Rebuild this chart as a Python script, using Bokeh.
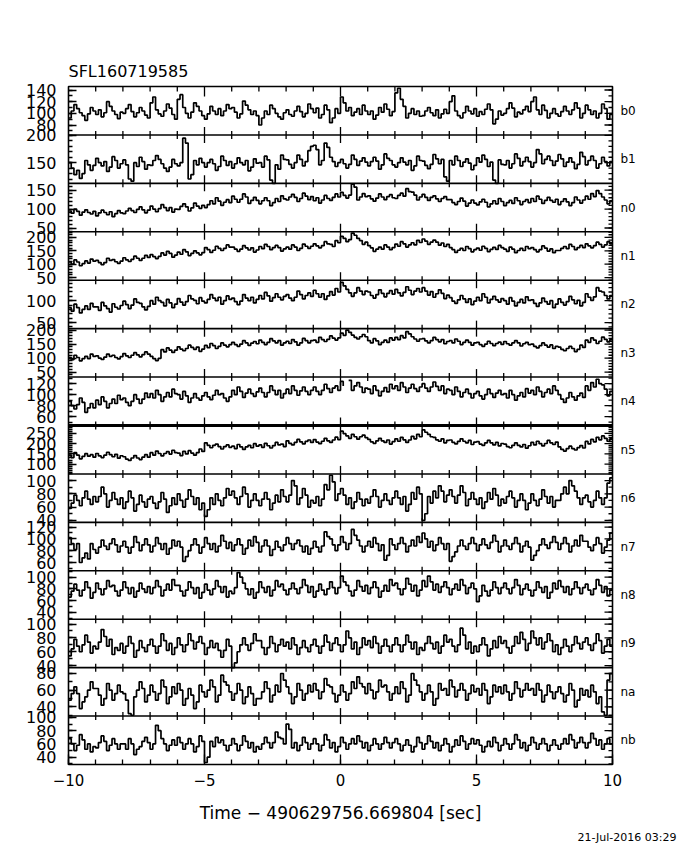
import math
import numpy as np
from bokeh.plotting import figure
from bokeh.models import (LinearAxis, FixedTicker, Range1d, Span, Title,
                          ColumnDataSource, LinearInterpolator)
from bokeh.transform import transform
from bokeh.embed import file_html
from bokeh.resources import INLINE

TITLE = "SFL160719585"
X_LABEL = "Time \u2212 490629756.669804 [sec]"
DATE = "21-Jul-2016 03:29"

# time bins (0.1 s) from -10 to 10 s
T_START, T_END, N_BINS = -10.0, 10.0, 200
X_TICKS = [-10, -5, 0, 5, 10]
X_TICK_LABELS = ["\u221210", "\u22125", "0", "5", "10"]

PANEL_NAMES = ["b0", "b1", "n0", "n1", "n2", "n3", "n4", "n5",
               "n6", "n7", "n8", "n9", "na", "nb"]
PANEL_LO = [63, 112, 40, 40, 36, 32, 44, 52, 37, 46, 28, 37, 29, 29]
PANEL_HI = [146, 201, 168, 221, 147, 205, 132, 289, 110, 128, 111, 107, 87, 102]
PANEL_TICKS = [[80, 100, 120, 140], [150, 200], [50, 100, 150], [50, 100, 150, 200],
               [50, 100], [50, 100, 150, 200], [60, 80, 100, 120], [100, 150, 200, 250],
               [40, 60, 80, 100], [60, 80, 100, 120], [40, 60, 80, 100],
               [40, 60, 80, 100], [40, 60, 80], [40, 60, 80, 100]]

b0 = [92, 104, 115, 108, 101, 96, 88, 99, 110, 104,
      98, 106, 94, 101, 120, 112, 104, 98, 91, 102,
      100, 108, 115, 103, 94, 101, 110, 104, 97, 92,
      118, 128, 106, 99, 95, 104, 116, 109, 98, 90,
      124, 132, 110, 100, 92, 102, 118, 112, 104, 96,
      90, 99, 112, 104, 98, 108, 96, 104, 115, 108,
      110, 102, 92, 99, 121, 114, 106, 98, 104, 96,
      80, 92, 104, 98, 114, 108, 100, 94, 90, 101,
      106, 98, 95, 104, 112, 103, 94, 100, 116, 108,
      101, 109, 92, 98, 114, 106, 84, 92, 108, 100,
      128, 118, 104, 110, 96, 102, 108, 98, 114, 104,
      98, 104, 90, 97, 110, 102, 116, 107, 96, 103,
      135, 143, 124, 112, 92, 100, 108, 98, 104, 95,
      96, 104, 110, 101, 96, 106, 92, 99, 107, 100,
      120, 130, 104, 96, 92, 101, 112, 104, 99, 108,
      95, 103, 98, 107, 116, 106, 82, 90, 104, 97,
      100, 108, 118, 109, 94, 102, 99, 106, 112, 103,
      120, 128, 106, 98, 114, 105, 92, 100, 108, 99,
      95, 103, 112, 104, 98, 106, 118, 109, 92, 100,
      114, 106, 98, 104, 92, 100, 116, 108, 90, 98]
b1 = [150, 140, 128, 136, 121, 130, 154, 146, 136, 145,
      158, 150, 144, 152, 134, 142, 161, 154, 140, 148,
      155, 146, 120, 116, 150, 143, 160, 152, 138, 146,
      145, 154, 163, 156, 148, 140, 134, 142, 156, 148,
      144, 150, 195, 186, 120, 128, 154, 146, 158, 150,
      142, 150, 156, 148, 136, 143, 162, 154, 145, 152,
      140, 148, 159, 150, 146, 154, 135, 142, 157, 149,
      150, 142, 162, 155, 118, 112, 146, 138, 164, 156,
      155, 147, 140, 150, 164, 156, 144, 152, 172, 180,
      182, 174, 146, 154, 186, 178, 160, 152, 143, 150,
      156, 148, 140, 147, 164, 156, 145, 153, 159, 151,
      144, 152, 160, 153, 138, 146, 166, 158, 154, 146,
      142, 150, 159, 151, 146, 154, 136, 144, 162, 154,
      153, 145, 139, 147, 165, 157, 148, 156, 124, 116,
      154, 146, 162, 154, 143, 151, 157, 149, 137, 145,
      159, 151, 164, 156, 143, 151, 118, 112, 155, 147,
      146, 154, 140, 148, 166, 158, 144, 152, 160, 152,
      142, 150, 174, 166, 148, 156, 162, 154, 145, 153,
      165, 157, 143, 151, 159, 151, 139, 147, 169, 161,
      146, 154, 162, 154, 140, 148, 160, 152, 144, 152]
n0 = [95, 89, 100, 94, 84, 92, 98, 91, 87, 94,
      82, 90, 97, 91, 85, 93, 80, 88, 96, 90,
      88, 95, 102, 96, 91, 99, 106, 98, 90, 97,
      108, 100, 93, 101, 112, 104, 96, 104, 92, 100,
      99, 107, 114, 106, 95, 103, 116, 108, 102, 110,
      104, 112, 122, 114, 130, 121, 110, 118, 125, 117,
      134, 126, 118, 126, 140, 132, 115, 123, 131, 123,
      114, 122, 130, 122, 109, 117, 128, 120, 135, 127,
      124, 132, 139, 131, 120, 128, 142, 134, 125, 133,
      122, 130, 116, 124, 136, 128, 123, 131, 140, 132,
      144, 136, 129, 137, 166, 158, 124, 132, 141, 133,
      135, 127, 121, 129, 140, 132, 125, 133, 138, 130,
      128, 136, 142, 134, 154, 146, 145, 137, 124, 132,
      139, 131, 123, 131, 135, 127, 120, 128, 133, 125,
      125, 117, 112, 120, 129, 121, 108, 116, 124, 116,
      111, 119, 126, 118, 106, 114, 122, 114, 128, 120,
      109, 117, 123, 115, 130, 122, 112, 120, 125, 117,
      128, 120, 134, 126, 115, 123, 131, 123, 118, 126,
      112, 120, 127, 119, 109, 117, 132, 124, 116, 124,
      134, 126, 141, 133, 149, 141, 132, 124, 114, 122]
n1 = [108, 100, 116, 108, 94, 102, 112, 104, 119, 111,
      114, 106, 98, 106, 122, 114, 117, 109, 103, 111,
      124, 116, 110, 118, 130, 122, 114, 122, 133, 125,
      136, 128, 121, 129, 142, 134, 148, 140, 126, 134,
      145, 137, 154, 146, 132, 140, 150, 142, 135, 143,
      162, 154, 144, 152, 167, 159, 151, 159, 172, 164,
      164, 156, 148, 156, 169, 161, 153, 161, 145, 153,
      166, 158, 174, 166, 154, 162, 170, 162, 149, 157,
      164, 156, 172, 164, 151, 159, 175, 167, 159, 167,
      176, 168, 161, 169, 184, 176, 174, 166, 188, 180,
      204, 196, 184, 192, 216, 208, 196, 188, 174, 182,
      169, 161, 148, 156, 164, 156, 172, 164, 154, 162,
      175, 167, 184, 176, 164, 172, 180, 172, 189, 181,
      194, 186, 174, 182, 190, 182, 171, 179, 166, 174,
      162, 154, 144, 152, 159, 151, 166, 158, 146, 154,
      160, 152, 167, 159, 147, 155, 163, 155, 170, 162,
      156, 148, 164, 156, 143, 151, 159, 151, 166, 158,
      162, 154, 146, 154, 168, 160, 149, 157, 143, 151,
      151, 159, 166, 158, 174, 166, 154, 162, 170, 162,
      176, 168, 161, 169, 182, 174, 164, 172, 184, 176]
n2 = [84, 76, 92, 84, 72, 80, 88, 80, 94, 86,
      86, 78, 96, 88, 82, 74, 93, 85, 81, 89,
      99, 91, 82, 90, 104, 96, 94, 86, 79, 87,
      100, 92, 108, 100, 96, 88, 103, 95, 84, 92,
      105, 97, 90, 98, 112, 104, 101, 93, 107, 99,
      95, 103, 114, 106, 100, 108, 92, 100, 111, 103,
      106, 98, 91, 99, 114, 106, 100, 108, 95, 103,
      112, 104, 119, 111, 99, 107, 116, 108, 102, 110,
      114, 106, 100, 108, 122, 114, 104, 112, 118, 110,
      124, 116, 108, 116, 103, 111, 121, 113, 128, 120,
      142, 134, 126, 118, 110, 118, 130, 122, 114, 122,
      120, 112, 106, 114, 125, 117, 109, 117, 123, 115,
      126, 118, 111, 119, 132, 124, 114, 122, 128, 120,
      130, 122, 113, 121, 108, 116, 125, 117, 105, 113,
      107, 99, 94, 102, 112, 104, 96, 104, 91, 99,
      108, 100, 116, 108, 95, 103, 110, 102, 97, 105,
      100, 92, 107, 99, 88, 96, 103, 95, 109, 101,
      102, 94, 87, 95, 106, 98, 92, 100, 84, 92,
      104, 96, 90, 98, 110, 102, 93, 101, 88, 96,
      116, 108, 101, 109, 130, 122, 120, 112, 104, 112]
n3 = [102, 94, 110, 102, 90, 98, 106, 98, 114, 106,
      108, 100, 95, 103, 114, 106, 110, 102, 97, 105,
      116, 108, 102, 110, 119, 111, 104, 112, 122, 114,
      106, 98, 91, 99, 130, 122, 136, 128, 120, 128,
      140, 132, 126, 134, 146, 138, 131, 139, 124, 132,
      145, 137, 152, 144, 134, 142, 154, 146, 140, 148,
      156, 148, 142, 150, 162, 154, 145, 153, 159, 151,
      164, 156, 148, 156, 169, 161, 154, 162, 146, 154,
      160, 152, 166, 158, 146, 154, 170, 162, 154, 162,
      164, 156, 174, 166, 159, 167, 179, 171, 164, 172,
      189, 181, 200, 192, 182, 174, 168, 176, 184, 176,
      162, 154, 169, 161, 148, 156, 164, 156, 172, 164,
      174, 166, 180, 172, 194, 186, 176, 168, 160, 168,
      169, 161, 154, 162, 174, 166, 158, 166, 151, 159,
      162, 154, 168, 160, 148, 156, 164, 156, 146, 154,
      156, 148, 142, 150, 160, 152, 144, 152, 157, 149,
      159, 151, 146, 154, 162, 154, 143, 151, 156, 148,
      150, 142, 136, 144, 154, 146, 139, 147, 134, 142,
      139, 131, 126, 134, 142, 134, 123, 131, 146, 138,
      164, 156, 172, 164, 152, 160, 175, 167, 158, 166]
n4 = [88, 80, 74, 82, 94, 86, 68, 76, 84, 76,
      90, 82, 96, 88, 76, 84, 92, 84, 99, 91,
      94, 86, 80, 88, 100, 92, 84, 92, 103, 95,
      102, 94, 108, 100, 88, 96, 104, 96, 110, 102,
      100, 92, 106, 98, 86, 94, 102, 94, 90, 98,
      104, 96, 91, 99, 108, 100, 102, 94, 88, 96,
      108, 100, 114, 106, 95, 103, 110, 102, 97, 105,
      112, 104, 96, 104, 116, 108, 100, 108, 94, 102,
      110, 102, 116, 108, 99, 107, 114, 106, 100, 108,
      114, 106, 100, 108, 119, 111, 104, 112, 116, 108,
      124, 116, 134, 126, 108, 116, 122, 114, 104, 112,
      110, 102, 116, 108, 98, 106, 113, 105, 119, 111,
      116, 108, 122, 114, 104, 112, 119, 111, 106, 114,
      120, 112, 106, 114, 123, 115, 108, 116, 102, 110,
      108, 100, 114, 106, 96, 104, 110, 102, 94, 102,
      106, 98, 92, 100, 110, 102, 95, 103, 108, 100,
      102, 94, 108, 100, 90, 98, 104, 96, 111, 103,
      108, 100, 114, 106, 96, 104, 110, 102, 116, 108,
      100, 92, 86, 94, 104, 96, 90, 98, 103, 95,
      116, 108, 122, 114, 128, 120, 118, 110, 98, 106]
n5 = [144, 132, 156, 144, 126, 138, 151, 139, 146, 134,
      152, 140, 132, 144, 158, 146, 136, 148, 129, 141,
      136, 124, 118, 130, 142, 130, 122, 134, 146, 134,
      156, 144, 164, 152, 140, 152, 161, 149, 168, 156,
      154, 142, 162, 150, 166, 154, 144, 156, 174, 162,
      204, 192, 180, 192, 198, 186, 174, 186, 194, 182,
      188, 176, 196, 184, 172, 184, 192, 180, 200, 188,
      194, 182, 202, 190, 179, 191, 206, 194, 198, 186,
      214, 202, 194, 206, 221, 209, 199, 211, 218, 206,
      220, 208, 200, 212, 226, 214, 206, 218, 232, 220,
      261, 249, 238, 226, 246, 234, 222, 234, 242, 230,
      221, 209, 202, 214, 226, 214, 206, 218, 198, 210,
      224, 212, 231, 219, 206, 218, 236, 224, 246, 234,
      268, 256, 246, 234, 231, 219, 212, 224, 204, 216,
      218, 206, 199, 211, 224, 212, 204, 216, 196, 208,
      210, 198, 192, 204, 216, 204, 194, 206, 189, 201,
      198, 186, 180, 192, 204, 192, 184, 196, 178, 190,
      206, 194, 212, 200, 189, 201, 216, 204, 196, 208,
      184, 172, 164, 176, 188, 176, 169, 181, 191, 179,
      211, 199, 221, 209, 231, 219, 238, 226, 212, 224]
n6 = [58, 66, 78, 70, 62, 74, 84, 72, 64, 76,
      68, 76, 90, 80, 60, 70, 82, 72, 64, 74,
      58, 68, 84, 74, 54, 64, 78, 68, 60, 72,
      76, 66, 58, 68, 82, 72, 52, 62, 74, 64,
      80, 70, 60, 72, 86, 76, 64, 74, 56, 66,
      46, 56, 74, 64, 80, 70, 62, 74, 88, 78,
      84, 74, 64, 76, 90, 80, 60, 70, 80, 70,
      62, 72, 82, 72, 56, 66, 78, 68, 86, 76,
      68, 78, 100, 92, 64, 74, 88, 78, 60, 70,
      66, 76, 62, 72, 94, 86, 108, 98, 70, 80,
      88, 78, 64, 74, 58, 68, 82, 72, 62, 72,
      66, 76, 86, 76, 60, 70, 80, 70, 64, 74,
      84, 74, 64, 76, 54, 64, 82, 72, 90, 80,
      40, 50, 76, 66, 84, 74, 92, 84, 68, 78,
      86, 76, 66, 78, 92, 82, 62, 72, 82, 72,
      64, 74, 58, 68, 82, 72, 88, 78, 62, 72,
      66, 76, 84, 74, 60, 70, 80, 70, 56, 66,
      80, 70, 62, 72, 86, 76, 66, 76, 60, 70,
      70, 80, 90, 80, 100, 92, 84, 74, 64, 74,
      78, 68, 60, 70, 84, 74, 64, 74, 96, 104]
n7 = [102, 92, 82, 92, 60, 68, 76, 66, 92, 82,
      76, 86, 98, 88, 82, 92, 100, 90, 78, 88,
      96, 86, 76, 86, 104, 94, 80, 90, 100, 90,
      78, 88, 102, 92, 82, 92, 74, 84, 98, 88,
      96, 86, 62, 70, 80, 90, 100, 90, 76, 86,
      102, 92, 82, 92, 78, 88, 106, 96, 84, 94,
      80, 90, 100, 90, 74, 84, 98, 88, 104, 94,
      78, 88, 98, 88, 72, 82, 96, 86, 80, 90,
      102, 92, 82, 92, 98, 88, 78, 88, 74, 84,
      96, 86, 78, 88, 112, 104, 100, 90, 80, 90,
      104, 94, 82, 92, 116, 106, 98, 88, 78, 88,
      96, 86, 102, 92, 80, 90, 64, 72, 100, 90,
      82, 92, 102, 92, 78, 88, 98, 88, 104, 94,
      110, 100, 86, 96, 80, 90, 102, 92, 82, 92,
      62, 70, 78, 88, 98, 88, 82, 92, 102, 92,
      80, 90, 100, 90, 84, 94, 106, 96, 78, 88,
      98, 88, 82, 92, 102, 92, 78, 88, 96, 86,
      64, 72, 80, 90, 100, 90, 84, 94, 104, 94,
      82, 92, 102, 92, 78, 88, 98, 88, 106, 96,
      96, 86, 80, 90, 102, 92, 76, 86, 98, 110]
n8 = [66, 76, 88, 78, 68, 78, 92, 82, 64, 74,
      90, 80, 70, 80, 94, 84, 86, 76, 68, 78,
      92, 82, 72, 82, 66, 76, 90, 80, 74, 84,
      72, 82, 94, 84, 68, 78, 88, 78, 96, 86,
      86, 76, 68, 78, 92, 82, 72, 82, 64, 74,
      88, 78, 70, 80, 94, 84, 74, 84, 66, 76,
      72, 82, 108, 100, 90, 80, 70, 80, 64, 74,
      92, 82, 74, 84, 68, 78, 94, 84, 88, 78,
      70, 80, 90, 80, 72, 82, 96, 86, 74, 84,
      66, 76, 88, 78, 70, 80, 92, 82, 72, 82,
      102, 92, 86, 76, 68, 78, 94, 84, 76, 86,
      72, 82, 92, 82, 66, 76, 86, 76, 96, 86,
      90, 80, 70, 80, 98, 88, 76, 86, 68, 78,
      94, 84, 102, 92, 78, 88, 74, 84, 92, 82,
      70, 80, 88, 78, 96, 86, 72, 82, 90, 80,
      58, 68, 86, 76, 68, 78, 92, 82, 72, 82,
      90, 80, 72, 82, 96, 86, 70, 80, 88, 78,
      68, 78, 92, 82, 74, 84, 64, 74, 90, 80,
      94, 84, 74, 84, 70, 80, 92, 82, 72, 82,
      88, 78, 70, 80, 96, 86, 74, 84, 68, 78]
n9 = [54, 64, 78, 68, 60, 70, 84, 74, 58, 68,
      64, 74, 92, 82, 68, 78, 56, 66, 62, 72,
      58, 68, 82, 72, 52, 62, 76, 66, 60, 70,
      78, 68, 58, 68, 86, 76, 62, 72, 56, 66,
      80, 70, 60, 70, 86, 76, 64, 74, 82, 72,
      56, 66, 76, 66, 72, 62, 52, 62, 78, 68,
      37, 44, 60, 70, 80, 70, 62, 72, 86, 76,
      76, 66, 56, 66, 82, 72, 60, 70, 78, 68,
      74, 64, 80, 70, 56, 66, 76, 66, 60, 70,
      78, 68, 58, 68, 84, 74, 62, 72, 80, 70,
      60, 70, 90, 80, 64, 74, 56, 66, 80, 70,
      76, 66, 82, 72, 58, 68, 78, 68, 60, 70,
      80, 70, 60, 70, 84, 74, 64, 74, 56, 66,
      62, 72, 82, 72, 64, 74, 58, 68, 84, 74,
      78, 68, 60, 70, 94, 84, 64, 74, 58, 68,
      60, 70, 80, 70, 54, 64, 76, 66, 82, 72,
      76, 66, 58, 68, 82, 72, 88, 78, 62, 72,
      90, 80, 70, 80, 64, 74, 86, 76, 60, 70,
      56, 66, 78, 68, 60, 70, 82, 72, 64, 74,
      80, 70, 62, 72, 86, 76, 58, 68, 78, 68]
na = [48, 56, 64, 56, 38, 46, 52, 60, 70, 62,
      62, 54, 42, 50, 68, 60, 48, 56, 66, 58,
      56, 48, 32, 30, 52, 60, 70, 62, 46, 54,
      66, 58, 48, 56, 72, 64, 44, 52, 64, 56,
      68, 60, 42, 50, 62, 54, 38, 46, 66, 58,
      52, 60, 72, 64, 46, 54, 78, 70, 66, 58,
      48, 56, 68, 60, 44, 52, 64, 56, 42, 50,
      50, 58, 70, 62, 46, 54, 66, 58, 80, 72,
      64, 56, 44, 52, 68, 60, 48, 56, 66, 58,
      68, 60, 50, 58, 74, 66, 64, 56, 46, 54,
      66, 58, 48, 56, 70, 62, 76, 68, 64, 56,
      68, 60, 50, 58, 72, 64, 66, 58, 48, 56,
      64, 56, 70, 62, 46, 54, 80, 72, 66, 58,
      48, 56, 66, 58, 42, 50, 68, 60, 62, 54,
      72, 64, 52, 60, 68, 60, 48, 56, 66, 58,
      62, 54, 68, 60, 44, 52, 66, 58, 64, 56,
      66, 58, 48, 56, 70, 62, 52, 60, 68, 60,
      62, 54, 68, 60, 46, 54, 66, 58, 50, 58,
      64, 56, 46, 54, 68, 60, 40, 48, 62, 54,
      60, 52, 66, 58, 44, 52, 34, 30, 72, 80]
nb = [68, 60, 50, 58, 74, 66, 52, 60, 48, 56,
      54, 62, 72, 64, 50, 58, 68, 60, 52, 60,
      60, 52, 68, 60, 44, 52, 56, 64, 70, 62,
      52, 60, 88, 80, 68, 60, 50, 58, 66, 58,
      70, 62, 52, 60, 68, 60, 48, 56, 72, 64,
      32, 40, 64, 56, 70, 62, 66, 58, 50, 58,
      68, 60, 50, 58, 72, 64, 54, 62, 48, 56,
      52, 60, 70, 62, 54, 62, 78, 70, 68, 60,
      90, 82, 54, 62, 50, 58, 70, 62, 52, 60,
      68, 60, 50, 58, 74, 66, 54, 62, 48, 56,
      70, 62, 52, 60, 68, 60, 72, 64, 54, 62,
      50, 58, 68, 60, 52, 60, 70, 62, 54, 62,
      68, 60, 50, 58, 66, 58, 48, 56, 70, 62,
      52, 60, 72, 64, 54, 62, 50, 58, 68, 60,
      48, 56, 66, 58, 72, 64, 52, 60, 68, 60,
      66, 58, 48, 56, 64, 56, 70, 62, 50, 58,
      68, 60, 52, 60, 74, 66, 54, 62, 50, 58,
      70, 62, 52, 60, 68, 60, 50, 58, 66, 58,
      52, 60, 68, 60, 74, 66, 54, 62, 70, 62,
      54, 62, 76, 68, 58, 66, 52, 60, 68, 60]

SERIES = [b0, b1, n0, n1, n2, n3, n4, n5, n6, n7, n8, n9, na, nb]
N_PANELS = len(SERIES)
FONT = "DejaVu Sans"

p = figure(width=680, height=850, x_range=Range1d(T_START, T_END),
           y_range=Range1d(0, N_PANELS), output_backend="svg", toolbar_location=None,
           min_border_left=68, min_border_right=68, min_border_top=86, min_border_bottom=86,
           x_axis_location=None, y_axis_location=None, background_fill_color="white",
           border_fill_color="white")
p.grid.visible = False
p.outline_line_color = "black"
p.outline_line_width = 1.6

p.title.text = TITLE
p.title.align = "left"
p.title.text_font = FONT
p.title.text_font_size = "16px"
p.title.text_font_style = "normal"
p.title.text_color = "black"
p.title.standoff = 11

edges = np.linspace(T_START, T_END, N_BINS + 1)

# y ticks for every panel, mapped into the panel's band
y_major, y_minor, y_over, centers = [], [], {}, []
for i in range(N_PANELS):
    base = N_PANELS - 1 - i
    centers.append(base + 0.5)
    lo, hi = PANEL_LO[i], PANEL_HI[i]
    for v in PANEL_TICKS[i]:
        pos = round(base + (v - lo) / (hi - lo), 6)
        y_major.append(pos)
        y_over[pos] = str(v)
    for v in range(int(math.ceil(lo / 10.0)) * 10, hi + 1, 10):
        y_minor.append(round(base + (v - lo) / (hi - lo), 6))
    src = ColumnDataSource(dict(t=edges, v=list(SERIES[i]) + [SERIES[i][-1]]))
    interp = LinearInterpolator(x=[lo, hi], y=[base, base + 1])
    p.step(x="t", y=transform("v", interp), source=src, mode="after",
           line_color="black", line_width=1.7)

# panel separators
for k in range(1, N_PANELS):
    p.add_layout(Span(location=k, dimension="width", line_color="black",
                      line_width=3 if k == 7 else 1.6))

# time ticks on every horizontal panel border (incl. the top frame; clipped to the frame)
bx, by, bs = [], [], []
for k in range(1, N_PANELS + 1):
    for t in range(int(T_START) + 1, int(T_END)):
        bx.append(t); by.append(k)
        if k == N_PANELS:
            bs.append(20 if t % 5 == 0 else 10)
        else:
            bs.append(16 if t % 5 == 0 else 8)
p.scatter(x=bx, y=by, size=bs, marker="dash", angle=math.pi / 2,
          line_color="black", line_width=1.3)

# value ticks on the right frame (clipped to the frame, so only the inner half shows)
rx = [T_END] * (len(y_major) + len(y_minor))
ry = y_major + y_minor
rs = [16] * len(y_major) + [8] * len(y_minor)
p.scatter(x=rx, y=ry, size=rs, marker="dash", angle=0,
          line_color="black", line_width=1.3)

x_ticker = FixedTicker(ticks=X_TICKS, minor_ticks=list(range(int(T_START), int(T_END) + 1)))
y_ticker = FixedTicker(ticks=y_major, minor_ticks=y_minor)


def style(ax):
    ax.axis_line_color = None
    ax.major_tick_in = 8
    ax.major_tick_out = 0
    ax.minor_tick_in = 4
    ax.minor_tick_out = 0
    ax.major_tick_line_width = 1.3
    ax.minor_tick_line_width = 1.3
    ax.major_tick_line_color = "black"
    ax.minor_tick_line_color = "black"


xb = LinearAxis(ticker=x_ticker, axis_label=X_LABEL,
                major_label_overrides=dict(zip(X_TICKS, X_TICK_LABELS)))
style(xb)
xb.major_tick_in = 10
xb.minor_tick_in = 5
xb.major_label_text_font = FONT
xb.major_label_text_font_size = "15px"
xb.major_label_text_color = "black"
xb.major_label_standoff = 9
xb.axis_label_text_font = FONT
xb.axis_label_text_font_size = "17px"
xb.axis_label_text_font_style = "normal"
xb.axis_label_text_color = "black"
xb.axis_label_standoff = 14
p.add_layout(xb, "below")

yl = LinearAxis(ticker=y_ticker, major_label_overrides=y_over)
style(yl)
yl.major_label_text_font = FONT
yl.major_label_text_font_size = "16px"
yl.major_label_text_color = "black"
yl.major_label_standoff = 12
p.add_layout(yl, "left")

# detector names on the right, one per panel
yr = LinearAxis(ticker=FixedTicker(ticks=centers, minor_ticks=[]),
                major_label_overrides=dict(zip(centers, PANEL_NAMES)))
yr.axis_line_color = None
yr.major_tick_line_color = None
yr.major_tick_in = 0
yr.major_tick_out = 0
yr.major_label_standoff = 8
yr.major_label_text_font = FONT
yr.major_label_text_font_size = "12px"
yr.major_label_text_color = "black"
p.add_layout(yr, "right")

date = Title(text=DATE, align="right", offset=-64, text_font=FONT,
             text_font_size="11px", text_font_style="normal", text_color="black",
             standoff=6)
p.add_layout(date, "below")

open("out.html", "w").write(file_html(p, INLINE))
